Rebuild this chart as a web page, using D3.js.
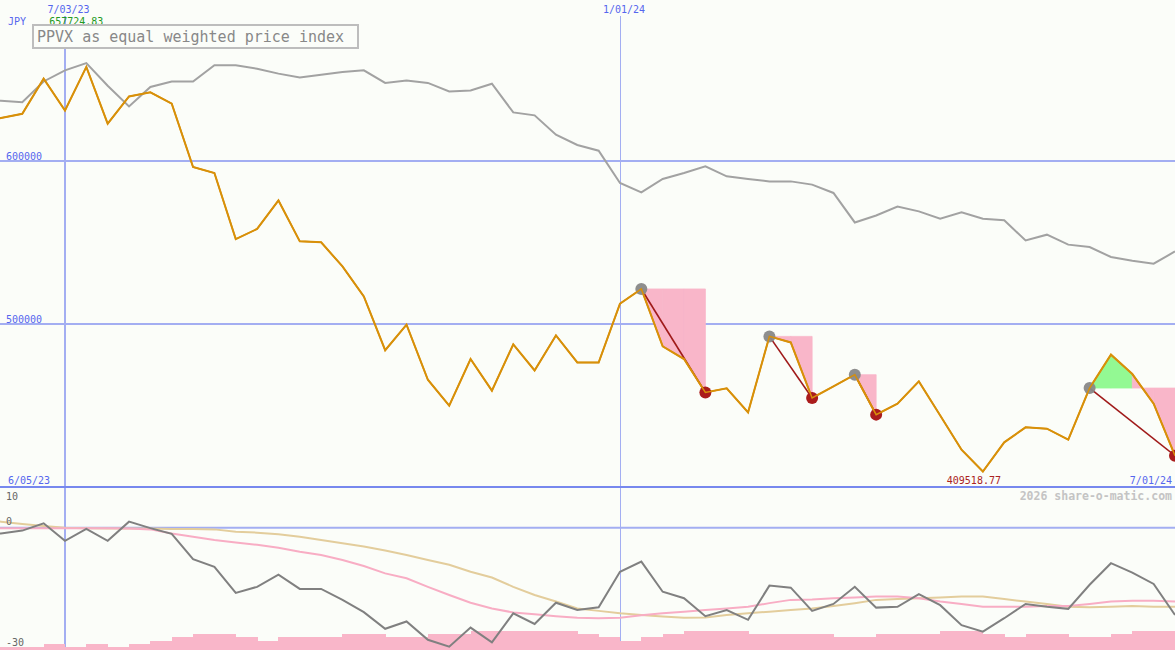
<!DOCTYPE html>
<html><head><meta charset="utf-8">
<script src="https://cdn.jsdelivr.net/npm/d3@7"></script>
<style>
html,body{margin:0;padding:0;background:#fbfdf9;}
svg{display:block;}
text{font-family:"DejaVu Sans Mono",monospace;}
</style></head><body>
<svg id="c" width="1175" height="650"></svg>
<script>
const dates = ["2023-06-05","2023-06-12","2023-06-19","2023-06-26","2023-07-03","2023-07-10","2023-07-17","2023-07-24","2023-07-31",
"2023-08-07","2023-08-14","2023-08-21","2023-08-28","2023-09-04","2023-09-11","2023-09-18","2023-09-25","2023-10-02","2023-10-09",
"2023-10-16","2023-10-23","2023-10-30","2023-11-06","2023-11-13","2023-11-20","2023-11-27","2023-12-04","2023-12-11","2023-12-18",
"2023-12-25","2024-01-01","2024-01-08","2024-01-15","2024-01-22","2024-01-29","2024-02-05","2024-02-12","2024-02-19","2024-02-26",
"2024-03-04","2024-03-11","2024-03-18","2024-03-25","2024-04-01","2024-04-08","2024-04-15","2024-04-22","2024-04-29","2024-05-06",
"2024-05-13","2024-05-20","2024-05-27","2024-06-03","2024-06-10","2024-06-17","2024-06-24","2024-07-01"];

const price = [624000,626400,629000,650500,631000,657724.83,622900,639600,642100,635200,596300,592600,552100,558300,575800,550700,
550100,535300,516900,483900,499600,465800,449900,478500,459100,487500,471500,493000,476400,476400,512500,521500,486300,478500,
458000,460500,445800,492400,488700,454600,461700,468900,444400,451100,464800,443900,422900,409518.77,427400,436600,435800,429000,
460700,481200,469300,451100,419200];

const benchmark = [637500,637000,636000,648800,655600,660100,646200,633500,645400,648800,648800,658700,658700,656600,653600,651300,
652900,654600,655600,647900,649400,647900,642700,643300,647400,629800,628000,616100,609800,606300,586500,580700,589000,592600,
596700,590600,589000,587500,587500,585500,580400,562300,566600,572100,569100,564600,568500,564600,563600,551300,554800,548700,
547200,541100,538800,537000,544500];

const relPerf = [-1.0,-1.4,-0.7,1.1,-3.2,-0.3,-3.2,1.5,-0.1,-1.5,-7.7,-9.6,-16.0,-14.5,-11.5,-15.0,-15.0,-17.7,-20.7,-24.8,-23.0,
-27.5,-29.2,-24.5,-28.1,-21.0,-23.6,-18.4,-20.2,-19.5,-10.8,-8.3,-15.7,-17.3,-21.7,-20.2,-22.6,-14.2,-14.7,-20.4,-18.7,-14.5,-19.6,
-19.4,-16.3,-19.0,-23.9,-25.5,-22.2,-18.7,-19.4,-19.9,-14.0,-8.7,-11.0,-13.8,-21.4];

const maShort = [0,-0.1,-0.1,-0.1,-0.1,-0.1,-0.1,-0.2,-0.4,-1.4,-2.2,-3.0,-3.6,-4.2,-4.9,-5.9,-6.7,-7.9,-9.4,-11.2,-12.4,-14.5,-16.5,
-18.4,-19.8,-20.8,-21.2,-21.7,-22.1,-22.2,-22.1,-21.5,-21.0,-20.6,-20.2,-19.8,-19.4,-18.5,-17.7,-17.6,-17.3,-17.1,-16.9,-16.9,-17.3,
-18.1,-18.7,-19.4,-19.4,-19.4,-19.2,-19.2,-18.7,-18.1,-17.9,-17.9,-18.1];

const maLong = [2.0,1.5,0.9,0.4,0,-0.1,-0.2,-0.2,-0.2,-0.3,-0.3,-0.4,-1.0,-1.2,-1.6,-2.2,-3.0,-3.8,-4.6,-5.6,-6.7,-7.9,-9.1,-10.8,
-12.2,-14.5,-16.5,-18.1,-19.8,-20.4,-21.0,-21.4,-21.8,-22.1,-22.0,-21.4,-21.0,-20.6,-20.2,-19.8,-19.2,-18.5,-17.7,-17.5,-17.3,-17.1,
-16.9,-16.9,-17.5,-18.1,-18.7,-19.4,-19.5,-19.4,-19.2,-19.4,-19.4];

const volume = [1,1,1,2,1,2,1,2,3,4,5,5,4,3,4,4,4,5,5,4,4,5,5,6,6,6,6,6,5,4,3,4,5,6,6,6,5,5,5,5,4,4,5,5,5,6,6,5,4,5,5,4,4,5,6,6,6];

const priceTicks = [600000, 500000];
const lowerTicks = [10, 0, -30];
const gridDates = ["2023-07-03", "2024-01-01"];
const gridDateLabels = ["7/03/23", "1/01/24"];
const startLabel = "6/05/23", endLabel = "7/01/24";
const drawdowns = [
  {peak: "2024-01-08", trough: "2024-01-29"},
  {peak: "2024-02-19", trough: "2024-03-04"},
  {peak: "2024-03-18", trough: "2024-03-25"},
  {peak: "2024-06-03", trough: "2024-07-01"}
];
const title = "PPVX as equal weighted price index";
const currency = "JPY";
const watermark = "2026 share-o-matic.com";

const W = 1175, H = 650;
const parse = d3.utcParse("%Y-%m-%d");
const D = dates.map(parse);
const svg = d3.select("#c");

const x = d3.scaleUtc().domain([D[0], D[D.length-1]]).range([-20.4, 1175]);
const y = d3.scaleLinear().domain([400000, 700000]).range([487, 487 - 3*163]);
const yLow = d3.scaleLinear().domain([-30, 10]).range([650, 487]);
const yVol = d3.scaleLinear().domain([0, 52]).range([650, 487]);

const BLUE_TXT = "#5566ee", GRID = "#a3aef2";

svg.append("rect").attr("width", W).attr("height", H).attr("fill", "#fbfdf9");

// horizontal price grid
priceTicks.forEach(v => {
  svg.append("line").attr("x1", 0).attr("x2", W).attr("y1", y(v)).attr("y2", y(v))
    .attr("stroke", GRID).attr("stroke-width", 2);
  svg.append("text").attr("x", 6).attr("y", y(v) - 1.5).attr("font-size", 10).attr("fill", BLUE_TXT).text(v);
});
// lower zero line
svg.append("line").attr("x1", 0).attr("x2", W).attr("y1", yLow(0)).attr("y2", yLow(0))
  .attr("stroke", GRID).attr("stroke-width", 2);

// vertical date grid
gridDates.forEach((d, i) => {
  const xx = Math.round(x(parse(d))) + (i === 0 ? 0 : 0.5);
  svg.append("line").attr("x1", xx).attr("x2", xx).attr("y1", 16).attr("y2", H)
    .attr("stroke", GRID).attr("stroke-width", i === 0 ? 2 : 1);
  svg.append("text").attr("x", xx + 3.5).attr("y", 12.5).attr("text-anchor", "middle")
    .attr("font-size", 10).attr("fill", BLUE_TXT).text(gridDateLabels[i]);
});

// separator
svg.append("line").attr("x1", 0).attr("x2", W).attr("y1", 487).attr("y2", 487)
  .attr("stroke", "#7788ee").attr("stroke-width", 2);

// volume bars
const step = x(D[1]) - x(D[0]);
svg.append("g").attr("shape-rendering", "crispEdges").selectAll("rect").data(volume).join("rect")
  .attr("x", (d, i) => x(D[i]))
  .attr("width", step + 0.5)
  .attr("y", d => yVol(d))
  .attr("height", d => yVol(0) - yVol(d))
  .attr("fill", "#f9b6c9");

// lower panel lines
const lowLine = d3.line().x((d, i) => x(D[i])).y(d => yLow(d));
svg.append("path").attr("d", lowLine(maLong)).attr("fill", "none").attr("stroke", "#e3cd9c").attr("stroke-width", 2);
svg.append("path").attr("d", lowLine(maShort)).attr("fill", "none").attr("stroke", "#f8adc4").attr("stroke-width", 2);
svg.append("path").attr("d", lowLine(relPerf)).attr("fill", "none").attr("stroke", "#808080").attr("stroke-width", 2);

// lower labels
lowerTicks.forEach(v => {
  let yy = yLow(v);
  if (v === 10) yy += 12.5; else if (v === -30) yy -= 4.3; else yy -= 2.7;
  svg.append("text").attr("x", 6).attr("y", yy).attr("font-size", 10).attr("fill", "#666").text(v);
});

// main panel clip
svg.append("clipPath").attr("id", "mainclip").append("rect").attr("x", 0).attr("y", 0).attr("width", W).attr("height", 486);
const main = svg.append("g").attr("clip-path", "url(#mainclip)");

const pLine = d3.line().x((d, i) => x(D[i])).y(d => y(d));
main.append("path").attr("d", pLine(benchmark)).attr("fill", "none").attr("stroke", "#a2a2a2").attr("stroke-width", 2);

// drawdown fills
const idx = s => dates.indexOf(s);
drawdowns.forEach(dd => {
  const p = idx(dd.peak), t = idx(dd.trough);
  const pv = price[p];
  for (let i = p; i < t; i++) {
    const pts = [[x(D[i]), y(pv)], [x(D[i]), y(price[i])], [x(D[i+1]), y(price[i+1])], [x(D[i+1]), y(pv)]];
    const above = (price[i] + price[i+1]) / 2 >= pv;
    const col = above ? "#93f993" : "#f9b6c9";
    main.append("path").attr("d", d3.line()(pts) + "Z")
      .attr("fill", col).attr("stroke", col).attr("stroke-width", 0.8).attr("stroke-linejoin", "bevel");
  }
});
drawdowns.forEach(dd => {
  const p = idx(dd.peak), t = idx(dd.trough);
  main.append("line").attr("x1", x(D[p])).attr("y1", y(price[p])).attr("x2", x(D[t])).attr("y2", y(price[t]))
    .attr("stroke", "#a01a1a").attr("stroke-width", 1.6);
});

main.append("path").attr("d", pLine(price)).attr("fill", "none").attr("stroke", "#d8900a").attr("stroke-width", 2)
  .attr("stroke-linejoin", "miter");

drawdowns.forEach(dd => {
  const p = idx(dd.peak), t = idx(dd.trough);
  main.append("circle").attr("cx", x(D[p])).attr("cy", y(price[p])).attr("r", 6).attr("fill", "#888").attr("opacity", 0.95);
  main.append("circle").attr("cx", x(D[t])).attr("cy", y(price[t])).attr("r", 6).attr("fill", "#aa1c1c");
});
main.append("path").attr("d", pLine(price)).attr("fill", "none").attr("stroke", "#d8900a").attr("stroke-width", 1.5);

// texts
svg.append("text").attr("x", 8).attr("y", 25).attr("font-size", 10).attr("fill", BLUE_TXT).text(currency);
const maxI = price.indexOf(d3.max(price)), minI = price.indexOf(d3.min(price));
svg.append("text").attr("x", x(D[maxI]) + 17).attr("y", 25).attr("text-anchor", "end")
  .attr("font-size", 10).attr("fill", "#229922").text(d3.format(".2f")(price[maxI]));
svg.append("text").attr("x", x(D[minI]) - 9).attr("y", 483.5).attr("text-anchor", "middle")
  .attr("font-size", 10).attr("fill", "#aa2222").text(d3.format(".2f")(price[minI]));
svg.append("text").attr("x", 8).attr("y", 483.5).attr("font-size", 10).attr("fill", BLUE_TXT).text(startLabel);
svg.append("text").attr("x", 1172).attr("y", 483.5).attr("text-anchor", "end").attr("font-size", 10).attr("fill", BLUE_TXT).text(endLabel);
svg.append("text").attr("x", 1172).attr("y", 500).attr("text-anchor", "end").attr("font-size", 11.5)
  .attr("font-weight", "bold").attr("fill", "#c4c4c4").text(watermark);

// title box
svg.append("rect").attr("x", 33).attr("y", 25).attr("width", 325).attr("height", 23)
  .attr("fill", "#fbfdf9").attr("stroke", "#bdbdbd").attr("stroke-width", 2);
svg.append("text").attr("x", 37).attr("y", 41.5).attr("font-size", 15).attr("fill", "#888").text(title);
</script>
</body></html>
